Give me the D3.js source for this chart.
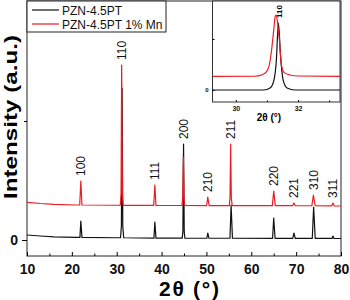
<!DOCTYPE html>
<html>
<head>
<meta charset="utf-8">
<script src="https://cdn.jsdelivr.net/npm/d3@7"></script>
<style>
  body { margin: 0; background: #fff; }
  svg { display: block; font-family: "Liberation Sans", Arial, sans-serif; }
</style>
</head>
<body>
<svg id="chart" width="350" height="300"></svg>
<script>
// peak indices and positions (2 theta)
const hkl = ["100", "110", "111", "200", "210", "211", "220", "221", "310", "311"];
const peakPos = [22.0, 31.15, 38.5, 44.85, 50.3, 55.45, 65.0, 69.5, 73.9, 78.2];

// series names
const seriesNames = ["PZN-4.5PT", "PZN-4.5PT 1% Mn"];

// main pattern, PZN-4.5PT  [2theta, counts]
const pztMain = [
    [10, 420], [13, 336], [16, 270], [21, 227],
    [21.8, 220], [22.0, 1597], [22.25, 218],
    [30, 190], [30.85, 190], [31.05, 1200], [31.2, 12773], [31.35, 1200], [31.55, 188],
    [38.3, 155], [38.5, 1513], [38.75, 154],
    [44.6, 150], [44.75, 700], [44.9, 8067], [45.05, 700], [45.2, 150],
    [50.1, 148], [50.3, 588], [50.55, 148],
    [55.25, 146], [55.5, 2941], [55.8, 146],
    [64.75, 140], [65.0, 1849], [65.3, 140],
    [69.25, 138], [69.5, 588], [69.8, 138],
    [73.6, 135], [73.9, 2773], [74.25, 135],
    [78.0, 130], [78.2, 336], [78.45, 130],
    [80, 126]
];

// main pattern, PZN-4.5PT 1% Mn
const pztMnMain = [
    [10, 3168], [13, 3067], [16, 3000], [21, 2941],
    [21.75, 2945], [22.0, 4958], [22.25, 2940],
    [30, 2918], [30.8, 2918], [30.97, 3900], [31.1, 14705], [31.27, 3900], [31.45, 2915],
    [38.25, 2902], [38.5, 4622], [38.75, 2900],
    [44.55, 2897], [44.7, 3500], [44.85, 6975], [45.0, 3500], [45.15, 2897],
    [50.05, 2893], [50.3, 3613], [50.6, 2893],
    [55.1, 2890], [55.25, 3500], [55.4, 8067], [55.55, 3500], [55.75, 2890],
    [64.7, 2884], [65.0, 4117], [65.35, 2884],
    [69.2, 2881], [69.5, 3109], [69.8, 2881],
    [73.5, 2878], [73.85, 3781], [74.25, 2878],
    [77.9, 2860], [78.2, 3109], [78.5, 2860],
    [80, 2857]
];

// inset, (110) reflection
const pztInset = [
    [29.25, 0], [30.9, 0], [31.1, 400], [31.22, 1800], [31.3, 5500], [31.37, 13130],
    [31.44, 6500], [31.52, 2000], [31.65, 400], [31.9, 0], [33.35, 0]
];
const pztMnInset = [
    [29.25, 2685], [30.6, 2700], [30.85, 3000], [30.99, 3590], [31.08, 5000], [31.15, 7840],
    [31.21, 11200], [31.27, 14500], [31.3, 14700], [31.35, 12800], [31.4, 9800], [31.47, 4800],
    [31.56, 3400], [31.74, 2940], [32.0, 2750], [33.35, 2685]
];

// tick values
const xTicks = [10, 20, 30, 40, 50, 60, 70, 80];
const xMinor = [15, 25, 35, 45, 55, 65, 75];
const insetTicks = [30, 32];
const insetMinor = [31, 33];

const colors = ["#111", "#ec1c24"];

let svg = d3.select("#chart");

// ---- main plot ----
let x = d3.scaleLinear().domain([10, 80]).range([27, 341]);
let y = d3.scaleLinear().domain([-1345, 20084]).range([256, 1]);

let line = d3.line()
    .x(function (d) { return x(d[0]); })
    .y(function (d) { return y(d[1]); });

svg.append("rect")
    .attr("x", 27).attr("y", 1)
    .attr("width", 314).attr("height", 255)
    .attr("fill", "none").attr("stroke", "#222").attr("stroke-width", 1);

[pztMain, pztMnMain].forEach(function (data, i) {
    svg.append("path")
        .datum(data)
        .attr("d", line)
        .attr("fill", "none")
        .attr("stroke", colors[i])
        .attr("stroke-width", 1.2)
        .attr("stroke-linejoin", "round");
});

// x axis
let xAxis = svg.append("g")
    .attr("transform", "translate(0,256)")
    .call(d3.axisBottom(x).tickValues(xTicks).tickSize(-4).tickPadding(8).tickFormat(d3.format("d")));
xAxis.select(".domain").remove();
xAxis.selectAll("text")
    .attr("font-size", 14).attr("font-weight", "bold").attr("fill", "#111")
    .attr("font-family", "Liberation Sans, Arial, sans-serif");

svg.append("g")
    .attr("transform", "translate(0,256)")
    .call(d3.axisBottom(x).tickValues(xMinor).tickSize(-2.5).tickFormat(""))
    .select(".domain").remove();

// y axis
let yAxis = svg.append("g")
    .attr("transform", "translate(27,0)")
    .call(d3.axisLeft(y).tickValues([0]).tickSize(5).tickPadding(4).tickFormat(d3.format("d")));
yAxis.select(".domain").remove();
yAxis.selectAll("text")
    .attr("font-size", 14).attr("font-weight", "bold").attr("fill", "#111")
    .attr("font-family", "Liberation Sans, Arial, sans-serif");

svg.append("g")
    .attr("transform", "translate(27,0)")
    .call(d3.axisLeft(y).tickValues([10000]).tickSize(3).tickFormat(""))
    .select(".domain").remove();

// titles
svg.append("text")
    .attr("x", 189).attr("y", 296)
    .attr("text-anchor", "middle")
    .attr("font-size", 21).attr("font-weight", "bold")
    .attr("textLength", 60).attr("lengthAdjust", "spacing")
    .text("2θ (°)");

svg.append("text")
    .attr("transform", "translate(17,117) rotate(-90)")
    .attr("text-anchor", "middle")
    .attr("font-size", 19).attr("font-weight", "bold")
    .attr("textLength", 164).attr("lengthAdjust", "spacingAndGlyphs")
    .text("Intensity (a.u.)");

// peak labels
svg.append("g").selectAll("text")
    .data(hkl)
    .enter()
    .append("text")
    .attr("transform", function (d, i) {
        let top = Math.max(
            d3.max(pztMnMain, function (p) { return Math.abs(p[0] - peakPos[i]) < 0.2 ? p[1] : 0; }),
            d3.max(pztMain, function (p) { return Math.abs(p[0] - peakPos[i]) < 0.2 ? p[1] : 0; })
        );
        return "translate(" + x(peakPos[i]) + "," + (y(top) - 5) + ") rotate(-90)";
    })
    .attr("dy", "0.35em")
    .attr("font-size", 12)
    .attr("fill", "#111")
    .text(function (d) { return d; });

// legend
let legend = svg.append("g");
legend.append("rect")
    .attr("x", 27).attr("y", 1)
    .attr("width", 139).attr("height", 31)
    .attr("fill", "#fff").attr("stroke", "#222");
seriesNames.forEach(function (name, i) {
    legend.append("line")
        .attr("x1", 32).attr("x2", 59)
        .attr("y1", 10 + i * 14).attr("y2", 10 + i * 14)
        .attr("stroke", colors[i]).attr("stroke-width", 1.2);
    legend.append("text")
        .attr("x", 62).attr("y", 14.5 + i * 14)
        .attr("font-size", 12)
        .attr("fill", "#111")
        .text(name);
});

// ---- inset ----
let xi = d3.scaleLinear().domain([29.25, 33.35]).range([212.5, 340]);
let yi = d3.scaleLinear().domain([-2353, 17451]).range([102, 1]);

let insetLine = d3.line()
    .curve(d3.curveMonotoneX)
    .x(function (d) { return xi(d[0]); })
    .y(function (d) { return yi(d[1]); });

svg.append("clipPath").attr("id", "insetClip")
    .append("rect")
    .attr("x", 212.5).attr("y", 1).attr("width", 127.5).attr("height", 101);

svg.append("rect")
    .attr("x", 212.5).attr("y", 1)
    .attr("width", 127.5).attr("height", 101)
    .attr("fill", "#fff").attr("stroke", "#333").attr("stroke-width", 1);

[pztInset, pztMnInset].forEach(function (data, i) {
    svg.append("path")
        .datum(data)
        .attr("clip-path", "url(#insetClip)")
        .attr("d", insetLine)
        .attr("fill", "none")
        .attr("stroke", colors[i])
        .attr("stroke-width", 1.2);
});

let xiAxis = svg.append("g")
    .attr("transform", "translate(0,102)")
    .call(d3.axisBottom(xi).tickValues(insetTicks).tickSize(-2).tickPadding(4).tickFormat(d3.format("d")));
xiAxis.select(".domain").remove();
xiAxis.selectAll("text")
    .attr("font-size", 7).attr("font-weight", "bold").attr("fill", "#111")
    .attr("font-family", "Liberation Sans, Arial, sans-serif");

svg.append("g")
    .attr("transform", "translate(0,102)")
    .call(d3.axisBottom(xi).tickValues(insetMinor).tickSize(-1.5).tickFormat(""))
    .select(".domain").remove();

let yiAxis = svg.append("g")
    .attr("transform", "translate(212.5,0)")
    .call(d3.axisLeft(yi).tickValues([0, 10000]).tickSize(-2).tickPadding(4)
        .tickFormat(function (d) { return d === 0 ? "0" : ""; }));
yiAxis.select(".domain").remove();
yiAxis.selectAll("text")
    .attr("font-size", 6).attr("font-weight", "bold").attr("fill", "#111")
    .attr("font-family", "Liberation Sans, Arial, sans-serif");

svg.append("text")
    .attr("x", 269).attr("y", 120.5)
    .attr("text-anchor", "middle")
    .attr("font-size", 10).attr("font-weight", "bold")
    .text("2θ (°)");

svg.append("text")
    .attr("transform", "translate(" + xi(31.4) + "," + (yi(13130) - 5) + ") rotate(-90)")
    .attr("dy", "0.35em")
    .attr("font-size", 8).attr("font-weight", "bold")
    .text("110");
</script>
</body>
</html>
